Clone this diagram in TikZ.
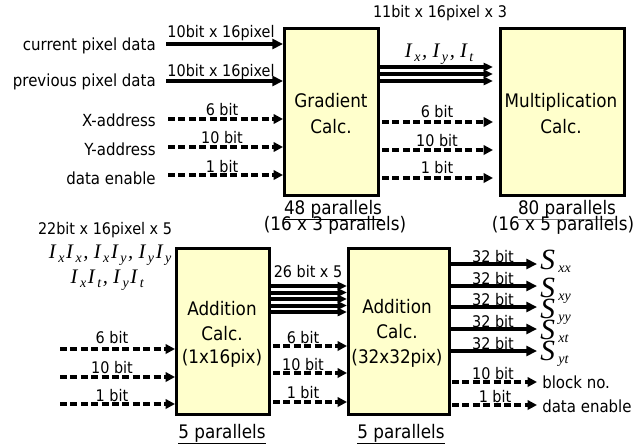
\documentclass[tikz,border=0pt]{standalone}
\usepackage{fontspec}
\setmainfont{DejaVu Sans Condensed}
\newfontfamily\tms{Liberation Serif}
\usetikzlibrary{arrows.meta}
\definecolor{boxfill}{HTML}{FFFFCC}
\newcommand\fsz[1]{\fontsize{#1}{#1}\selectfont}
\newcommand\mI[1]{{\tms\itshape I\kern0.12em\raisebox{-0.45ex}{\fsz{10.5}#1}\kern0.08em}}
\newcommand\mS[1]{{\tms\itshape S\kern0.12em\raisebox{-2.6pt}{\fsz{10.5}#1}}}
\tikzset{
  blk/.style={draw, line width=2.4pt, fill=boxfill, anchor=north west, inner sep=0pt},
  btx/.style={inner sep=0pt, anchor=base, font=\fsz{14}},
  bus/.style={line width=2.6pt, -{Triangle[length=8pt,width=7.5pt]}},
  mbus/.style={line width=3pt, -{Triangle[length=7pt,width=6pt]}},
  ctl/.style={line width=2.6pt, dash pattern=on 5.2pt off 2.6pt, -{Triangle[length=7pt,width=7pt]}},
  lbl/.style={inner sep=0pt, anchor=base, font=\fsz{12}},
  nm/.style={inner sep=0pt, font=\fsz{12.5}},
  par/.style={inner sep=0pt, anchor=base, font=\fsz{14}},
  mth/.style={inner sep=0pt, anchor=base, font=\tms\itshape\fsz{15.5}},
}
\begin{document}
\begin{tikzpicture}[x=0.75pt,y=-0.75pt]
\useasboundingbox (0,0) rectangle (634,447);
% boxes
\node[blk, minimum width=70.5pt, minimum height=125.25pt] (grad) at (283,27) {};
\node[blk, minimum width=93pt, minimum height=125.25pt] (mult) at (499,27) {};
\node[blk, minimum width=69.75pt, minimum height=124.5pt] (add1) at (175,247) {};
\node[blk, minimum width=75.75pt, minimum height=124.5pt] (add2) at (347,247) {};
\node[btx] (gradt1) at (331,107) {Gradient};
\node[btx] (gradt2) at (331,133) {Calc.};
\node[btx] (multt1) at (561,107) {Multiplication};
\node[btx] (multt2) at (561,133) {Calc.};
\node[btx] (a1t1) at (222,315) {Addition};
\node[btx] (a1t2) at (222,340) {Calc.};
\node[btx] (a1t3) at (222,363) {(1x16pix)};
\node[btx] (a2t1) at (397,313) {Addition};
\node[btx] (a2t2) at (397,338) {Calc.};
\node[btx] (a2t3) at (397,363) {(32x32pix)};

% input names
\node[nm, anchor=base east] (n1) at (156,50) {current pixel data};
\node[nm, anchor=base east] (n2) at (156,86) {previous pixel data};
\node[nm, anchor=base east] (n3) at (156,126) {X-address};
\node[nm, anchor=base east] (n4) at (156,155) {Y-address};
\node[nm, anchor=base east] (n5) at (156,184) {data enable};
\coordinate (i1) at (166,44);
\coordinate (i2) at (166,81);
\coordinate (i3) at (168,119);
\coordinate (i4) at (168,147);
\coordinate (i5) at (168,175);
\draw[bus] (i1) -- (i1 -| grad.west);
\draw[bus] (i2) -- (i2 -| grad.west);
\draw[ctl] (i3) -- (i3 -| grad.west);
\draw[ctl] (i4) -- (i4 -| grad.west);
\draw[ctl] (i5) -- (i5 -| grad.west);
\node[lbl] (l1) at (221,37) {10bit x 16pixel};
\node[lbl] (l2) at (221,76) {10bit x 16pixel};
\node[lbl] (l3) at (222,115) {6 bit};
\node[lbl] (l4) at (222,143) {10 bit};
\node[lbl] (l5) at (222,172) {1 bit};

% gradient -> multiplication
\node[lbl] (g0) at (440,17) {11bit x 16pixel x 3};
\node[mth] (g1) at (440,57) {\mI{x}, \mI{y}, \mI{t}};
\foreach \yy in {67,74,81} {
  \coordinate (gb) at (0,\yy);
  \draw[mbus] (gb -| grad.east) -- (493,\yy);
}
\coordinate (gc1) at (382,122);
\coordinate (gc2) at (382,150);
\coordinate (gc3) at (382,178);
\coordinate (mc1) at (493,122);
\coordinate (mc2) at (493,150);
\coordinate (mc3) at (493,178);
\draw[ctl] (gc1) -- (mc1);
\draw[ctl] (gc2) -- (mc2);
\draw[ctl] (gc3) -- (mc3);
\node[lbl] (g3) at (437,117) {6 bit};
\node[lbl] (g4) at (437,146) {10 bit};
\node[lbl] (g5) at (437,173) {1 bit};

\node[par] (p1) at (333,214) {\underline{48 parallels}};
\node[par] (p2) at (335,230) {(16 x 3 parallels)};
\node[par] (p3) at (567,214) {\color{gray}\underline{\color{black}80 parallels}};
\node[par] (p4) at (563,230) {(16 x 5 parallels)};

% addition 1 inputs
\node[lbl] (b0) at (105,234) {22bit x 16pixel x 5};
\node[mth] (b1) at (111,258) {\mI{x}\mI{x}, \mI{x}\mI{y}, \mI{y}\mI{y}};
\node[mth] (b2) at (108,283) {\mI{x}\mI{t}, \mI{y}\mI{t}};
\coordinate (ai1) at (60,349);
\coordinate (ai2) at (60,377);
\coordinate (ai3) at (60,404);
\draw[ctl] (ai1) -- (ai1 -| add1.west);
\draw[ctl] (ai2) -- (ai2 -| add1.west);
\draw[ctl] (ai3) -- (ai3 -| add1.west);
\node[lbl] (al1) at (112,343) {6 bit};
\node[lbl] (al2) at (112,373) {10 bit};
\node[lbl] (al3) at (112,401) {1 bit};
\node[par] (p5) at (222,438) {\underline{5 parallels}};

% addition 1 -> addition 2
\node[lbl] (c0) at (308,277) {26 bit x 5};
\foreach \yy in {286,292.5,299,305.5,312} {
  \coordinate (cb) at (0,\yy);
  \draw[mbus] (cb -| add1.east) -- (cb -| add2.west);
}
\coordinate (cc1) at (273,346);
\coordinate (cc2) at (273,373);
\coordinate (cc3) at (273,402);
\draw[ctl] (cc1) -- (cc1 -| add2.west);
\draw[ctl] (cc2) -- (cc2 -| add2.west);
\draw[ctl] (cc3) -- (cc3 -| add2.west);
\node[lbl] (cl1) at (303,343) {6 bit};
\node[lbl] (cl2) at (303,370) {10 bit};
\node[lbl] (cl3) at (303,398) {1 bit};
\node[par] (p6) at (401,438) {\underline{5 parallels}};

% addition 2 outputs
\foreach \yy/\sb/\sy [count=\k] in {264/xx/269,286/xy/297,307/yy/318,329/xt/339,351/yt/360} {
  \coordinate (ob\k) at (0,\yy);
  \coordinate (oe\k) at (537,\yy);
  \draw[bus] (ob\k -| add2.east) -- (oe\k);
  \node[lbl] (ol\k) at (493,\yy-2) {32 bit};
  \node[inner sep=0pt, anchor=base west, font=\fsz{22}] (os\k) at (540,\sy) {\mS{\sb}};
}
\coordinate (od1) at (452,382);
\coordinate (od2) at (452,405);
\coordinate (odn) at (537,382);
\coordinate (ode) at (537,405);
\draw[ctl] (od1) -- (odn);
\draw[ctl] (od2) -- (ode);
\node[lbl] (dl1) at (493,379) {10 bit};
\node[lbl] (dl2) at (495,402) {1 bit};
\node[nm, anchor=base west] (dn1) at (542,388) {block no.};
\node[nm, anchor=base west] (dn2) at (542,412) {data enable};
\end{tikzpicture}
\end{document}
